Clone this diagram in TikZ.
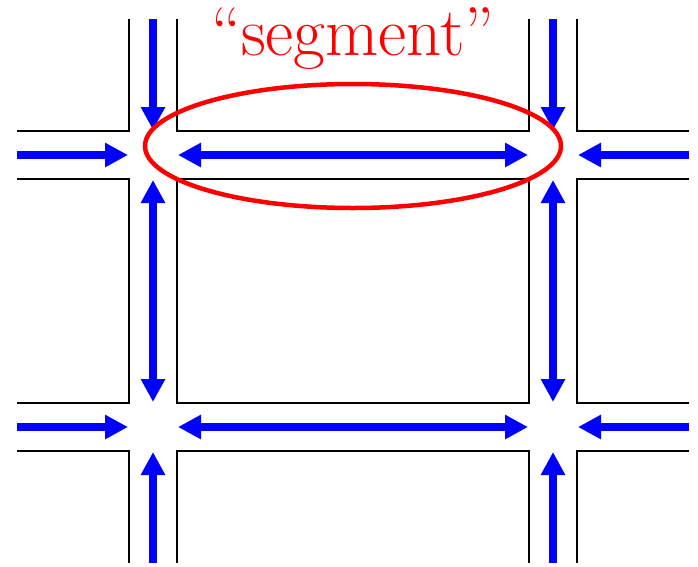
\documentclass[tikz,border=0pt]{standalone}
\usetikzlibrary{positioning,arrows.meta,shapes.geometric}
\begin{document}
\begin{tikzpicture}[x=1pt,y=-1pt]
    \tikzstyle{every node}=[inner sep=0,outer sep=0]
    \tikzstyle{cross}=[rectangle,draw=none,minimum width=50,minimum height=50]
    \tikzstyle{kerb}=[draw=black,line width=1.6pt]
    \tikzstyle{flow}=[draw=blue,line width=7.5pt,-{Triangle[length=23pt,width=23pt]}]
    \tikzstyle{twoway}=[flow,{Triangle[length=23pt,width=23pt]}-{Triangle[length=23pt,width=23pt]}]
    \useasboundingbox (0,0) rectangle (698,566);

    \node[cross] (x11) at (153,155) {};
    \node[cross] (x12) at (553,155) {};
    \node[cross] (x21) at (153,427) {};
    \node[cross] (x22) at (553,427) {};

    \coordinate (t1) at (153,19);
    \coordinate (t2) at (553,19);
    \coordinate (b1) at (153,563);
    \coordinate (b2) at (553,563);
    \coordinate (l1) at (17,155);
    \coordinate (l2) at (17,427);
    \coordinate (r1) at (689,155);
    \coordinate (r2) at (689,427);

    \draw[kerb] (17,131) -- (129,131) -- (129,19);
    \draw[kerb] (177,19) -- (177,131) -- (529,131) -- (529,19);
    \draw[kerb] (577,19) -- (577,131) -- (689,131);
    \draw[kerb] (17,179) -- (129,179) -- (129,403) -- (17,403);
    \draw[kerb] (177,179) rectangle (529,403);
    \draw[kerb] (689,179) -- (577,179) -- (577,403) -- (689,403);
    \draw[kerb] (17,451) -- (129,451) -- (129,563);
    \draw[kerb] (177,563) -- (177,451) -- (529,451) -- (529,563);
    \draw[kerb] (577,563) -- (577,451) -- (689,451);

    \foreach \n in {1,2} {
        \draw[flow] (t\n) -- (x1\n.north);
        \draw[flow] (b\n) -- (x2\n.south);
        \draw[flow] (l\n) -- (x\n1.west);
        \draw[flow] (r\n) -- (x\n2.east);
        \draw[twoway] (x\n1.east) -- (x\n2.west);
        \draw[twoway] (x1\n.south) -- (x2\n.north);
    }

    \node[draw=red,line width=4.5pt,ellipse,minimum width=416,minimum height=124] (seg) at (353,146) {};
    \node[anchor=base,text=red,font=\fontsize{69}{69}\selectfont] (label) at (353,55) {``segment''};
\end{tikzpicture}
\end{document}
